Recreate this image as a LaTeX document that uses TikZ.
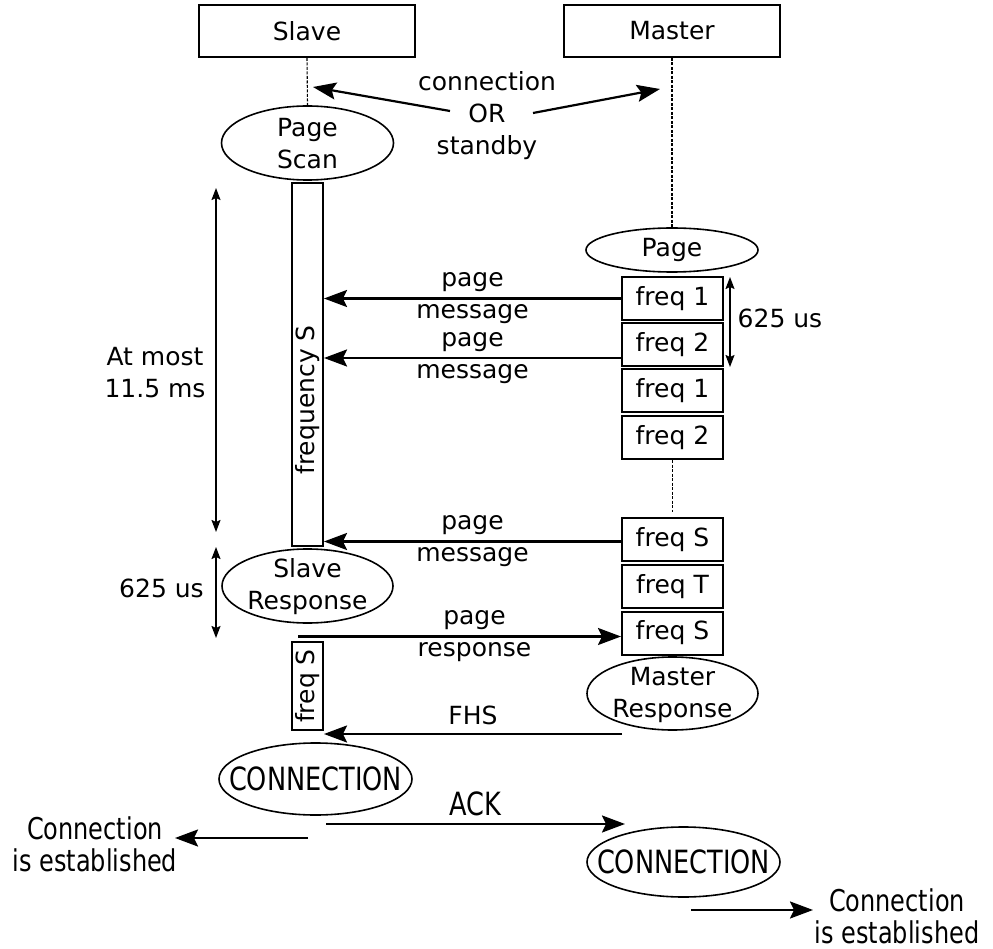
\documentclass[tikz,border=0pt]{standalone}
\usepackage{fontspec}
\setmainfont{DejaVu Sans}
\newfontfamily\condfont[FakeStretch=0.8]{DejaVu Sans}
\usetikzlibrary{arrows.meta,shapes.geometric}

\begin{document}
\begin{tikzpicture}[x=1pt,y=-1pt,
  every node/.style={font=\fontsize{25}{32}\selectfont, inner sep=0pt},
  txt/.style={align=center},
  hdr/.style={draw, line width=2pt, minimum width=216pt, minimum height=52pt},
  freqbox/.style={draw, line width=2pt, minimum width=101pt, minimum height=43pt},
  bar/.style={draw, line width=2pt, minimum width=31pt},
  oval/.style={draw, ellipse, line width=1.6pt},
  life/.style={line width=1.1pt, dash pattern=on 3pt off 1.5pt},
  msg/.style={line width=2.2pt, -{Stealth[length=23pt,width=17pt,inset=4pt]}},
  span/.style={line width=1.6pt, {Stealth[length=12pt,width=9pt,inset=2pt]}-{Stealth[length=12pt,width=9pt,inset=2pt]}},
  cond/.style={font=\condfont\fontsize{30}{32}\selectfont, align=center},
  condbig/.style={font=\condfont\fontsize{32}{32}\selectfont},
]
\useasboundingbox (0,0) rectangle (993,949);

% lifeline heads
\node[hdr] (slave) at (307,31) {Slave};
\node[hdr] (master) at (672,31) {Master};

% slave side states
\node[oval, minimum width=172pt, minimum height=74pt] (pscan) at (307.5,143) {};
\node[txt] at (307.5,143.5) {Page\\Scan};
\draw[life] (slave.south) -- (pscan.north);

\node[bar, minimum height=363pt] (fsbar) at (307.5,364.5) {};
\node[rotate=90] at (307.5,400) {frequency S};

\node[oval, minimum width=171pt, minimum height=74pt] (sresp) at (307.5,586) {};
\node[txt] at (307.5,587) {Slave\\Response};

\node[bar, minimum height=88pt] (fsmall) at (307.5,686) {};
\node[rotate=90] at (307.5,686) {freq S};

\node[oval, minimum width=193pt, minimum height=72pt] (connS) at (315.5,779) {};
\node[condbig] at (connS) {CONNECTION};

% master side states
\node[oval, minimum width=172pt, minimum height=44pt] (page) at (672,250) {};
\node at (page) {Page};
\draw[life] (master.south) -- (page.north);

\node[freqbox] (f1) at (672.5,298.5) {freq 1};
\node[freqbox] (f2) at (672.5,344.5) {freq 2};
\node[freqbox] (f3) at (672.5,390.5) {freq 1};
\node[freqbox] (f4) at (672.5,437.5) {freq 2};
\node[freqbox] (fS1) at (672.5,539.5) {freq S};
\node[freqbox] (fT) at (672.5,586.5) {freq T};
\node[freqbox] (fS2) at (672.5,633) {freq S};
\draw[life] (f4.south) -- ([yshift=5pt]fS1.north);

\node[oval, minimum width=171pt, minimum height=73pt] (mresp) at (672.5,693.5) {};
\node[txt] at (672.5,694.5) {Master\\Response};

\node[oval, minimum width=193pt, minimum height=70pt] (connM) at (683.5,862) {};
\node[condbig] at (connM) {CONNECTION};

% connection OR standby
\node[txt] (cos) at (487,116) {connection\\OR\\standby};
\coordinate (cosLa) at (450,111);
\coordinate (cosLb) at (313,87);
\coordinate (cosRa) at (533,113);
\coordinate (cosRb) at (660,89);
\draw[msg] (cosLa) -- (cosLb);
\draw[msg] (cosRa) -- (cosRb);

% page messages
\draw[msg] (f1.west) -- (f1.west -| fsbar.east) node[midway, txt] {page\\message};
\draw[msg] ([yshift=-13.5pt]f2.west) -- ([yshift=-13.5pt]f2.west -| fsbar.east) node[midway, txt] {page\\message};
\draw[msg] ([yshift=-2pt]fS1.west) -- ([yshift=-2pt]fS1.west -| fsbar.east) node[midway, txt] {page\\message};

% page response
\coordinate (prA) at (298,636.5);
\draw[msg] (prA) -- (prA -| fS2.west) node[midway, txt, xshift=15pt] {page\\response};

% FHS
\coordinate (fhsA) at (622,734);
\draw[msg] (fhsA) -- (fhsA -| fsmall.east) node[midway, above=8pt] {FHS};

% ACK
\coordinate (ackA) at (326,824);
\coordinate (ackB) at (625,824);
\draw[msg] (ackA) -- (ackB) node[midway, above=7pt, condbig] {ACK};

% connection established
\node[cond] (estL) at (95,844) {Connection\\is established};
\coordinate (eLa) at (308,838);
\coordinate (eLb) at (175,838);
\draw[msg] (eLa) -- (eLb);

\node[cond] (estR) at (897,916) {Connection\\is established};
\coordinate (eRa) at (691,910);
\coordinate (eRb) at (813,910);
\draw[msg] (eRa) -- (eRb);

% timing spans
\coordinate (tA) at (216,188);
\coordinate (tB) at (216,532);
\draw[span] (tA) -- (tB);
\node[txt] (tmax) at (155,373) {At most\\11.5 ms};

\coordinate (tC) at (216,547);
\coordinate (tD) at (216,638);
\draw[span] (tC) -- (tD);
\node (t625L) at (161.5,588) {625 us};

\coordinate (tE) at (730,277);
\coordinate (tF) at (730,367);
\draw[span] (tE) -- (tF);
\node (t625R) at (780,318) {625 us};
\end{tikzpicture}
\end{document}
